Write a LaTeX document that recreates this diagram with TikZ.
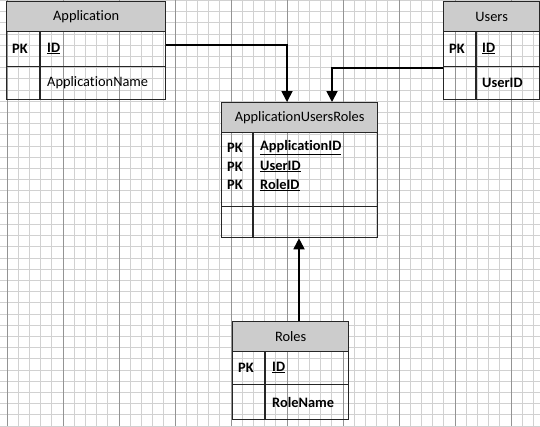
\documentclass[tikz,border=0pt]{standalone}
\usepackage{fontspec}
\setmainfont{Carlito}[Ligatures=NoCommon]
\usetikzlibrary{arrows.meta,calc}
\begin{document}
\begin{tikzpicture}[x=1pt,y=-1pt,
  box/.style={draw=black!85,line width=1.3pt,inner sep=0pt,anchor=north west},
  hdr/.style={box,fill=black!20,font=\fontsize{14.4}{16}\selectfont},
  cell/.style={inner sep=0pt,font=\fontsize{14.4}{16}\selectfont,anchor=west},
  arr/.style={line width=1.8pt,-{Triangle[length=11pt,width=11pt]}},
  minor/.style={draw=black!18,line width=0.7pt},
  major/.style={draw=black!42,line width=0.8pt}]
\useasboundingbox (0,0) rectangle (540,426);
\fill[white] (0,0) rectangle (540,426);
% grid
\foreach \i in {0,...,48} {\draw[minor] ({7+11.2*\i},0) -- ({7+11.2*\i},426);}
\foreach \i in {0,...,38} {\draw[minor] (0,{0.3+11.2*\i}) -- (540,{0.3+11.2*\i});}
\foreach \i in {0,...,9} {\draw[major] ({7+56*\i},0) -- ({7+56*\i},426);}

% Application
\node[hdr,minimum width=159pt,minimum height=30pt] (apph) at (6,1) {Application};
\node[box,minimum width=159pt,minimum height=35pt] (appr1) at (6,31) {};
\node[box,minimum width=159pt,minimum height=33pt] (appr2) at (6,66) {};
\draw[line width=1.3pt,black!85] (40,31) -- (40,99);
\node[cell] (apppk) at (12,48.5) {\textbf{PK}};
\node[cell] (appid) at (47,48.5) {\textbf{\underline{ID}}};
\node[cell] (appname) at (47,83) {ApplicationName};

% Users
\node[hdr,minimum width=96pt,minimum height=30pt] (usrh) at (443,1) {Users};
\node[box,minimum width=96pt,minimum height=35pt] (usrr1) at (443,31) {};
\node[box,minimum width=96pt,minimum height=33pt] (usrr2) at (443,66) {};
\draw[line width=1.3pt,black!85] (476,31) -- (476,99);
\node[cell] (usrpk) at (449,48.5) {\textbf{PK}};
\node[cell] (usrid) at (482,48.5) {\textbf{\underline{ID}}};
\node[cell] (usrname) at (482,83) {\textbf{UserID}};

% ApplicationUsersRoles
\node[hdr,minimum width=156pt,minimum height=30pt] (aurh) at (221,102) {ApplicationUsersRoles};
\node[box,minimum width=156pt,minimum height=74pt] (aurr1) at (221,132) {};
\node[box,minimum width=156pt,minimum height=31pt] (aurr2) at (221,206) {};
\draw[line width=1.3pt,black!85] (253,132) -- (253,237);
\node[cell] (aurpk1) at (227,148) {\textbf{PK}};
\node[cell] (aurpk2) at (227,166.5) {\textbf{PK}};
\node[cell] (aurpk3) at (227,185) {\textbf{PK}};
\node[cell] (auraid) at (260,148) {\textbf{\underline{ApplicationID}}};
\node[cell] (auruid) at (260,166.5) {\textbf{\underline{UserID}}};
\node[cell] (aurrid) at (260,185) {\textbf{\underline{RoleID}}};

% Roles
\node[hdr,minimum width=116pt,minimum height=30pt] (rolh) at (232,321) {Roles};
\node[box,minimum width=116pt,minimum height=33pt] (rolr1) at (232,351) {};
\node[box,minimum width=116pt,minimum height=35pt] (rolr2) at (232,384) {};
\draw[line width=1.3pt,black!85] (265,351) -- (265,419);
\node[cell] (rolpk) at (238,367.5) {\textbf{PK}};
\node[cell] (rolid) at (272,367.5) {\textbf{\underline{ID}}};
\node[cell] (rolname) at (272,402) {\textbf{RoleName}};

% connectors
\coordinate (a1) at ($(appr1.north east)+(0,14)$);
\coordinate (a1t) at ($(aurh.north west)+(66,0)$);
\draw[arr] (a1) -| (a1t);
\coordinate (u1) at ($(usrr2.north west)+(0,2)$);
\coordinate (u1t) at ($(aurh.north west)+(111,0)$);
\draw[arr] (u1) -| (u1t);
\coordinate (r1) at ($(rolh.north west)+(67,0)$);
\coordinate (r1t) at ($(aurr2.south west)+(78,0)$);
\draw[arr] (r1) -- (r1t);
\end{tikzpicture}
\end{document}
